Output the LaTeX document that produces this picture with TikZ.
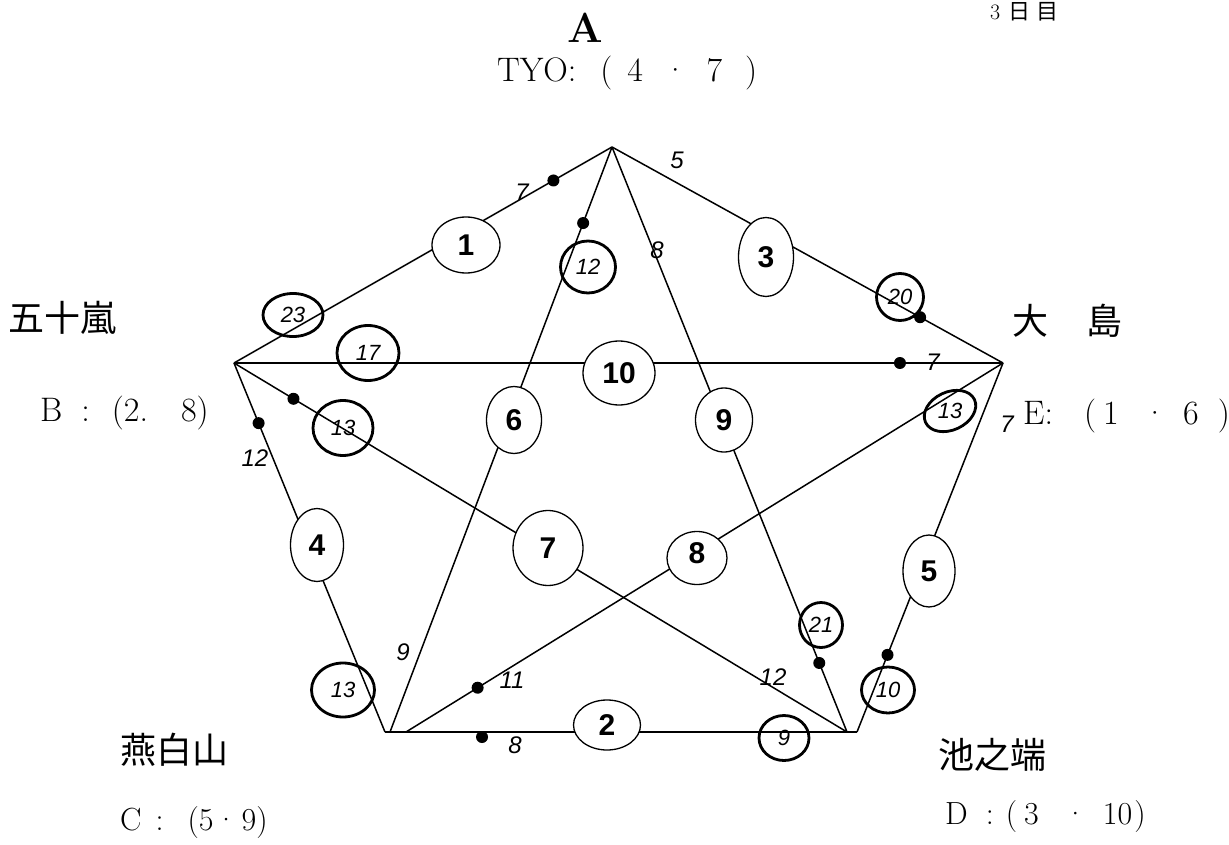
\documentclass[tikz,border=0pt]{standalone}
\usepackage{fontspec}
\usetikzlibrary{shapes.geometric,calc}
\newfontfamily\cjk{Noto Sans CJK JP}
\newfontfamily\numf{Liberation Sans}
\newfontfamily\handf{Liberation Sans}
\begin{document}
\begin{tikzpicture}[x=1pt,y=-1pt,
  edge/.style={line width=1.5pt},
  oval/.style={ellipse,draw,line width=1.3pt,fill=white,inner sep=0pt,font=\numf\bfseries\fontsize{30}{30}\selectfont},
  hring/.style={ellipse,draw,line width=2.8pt,inner sep=0pt,font=\handf\itshape\fontsize{22}{22}\selectfont},
  hline/.style={line width=2.8pt},
  hnum/.style={inner sep=0pt,font=\handf\itshape\fontsize{24}{24}\selectfont},
  htxt/.style={inner sep=0pt,font=\handf\itshape\fontsize{22}{22}\selectfont},
  dotn/.style={circle,fill,inner sep=0pt,minimum size=12pt},
  lbl/.style={inner sep=0pt,anchor=west,font=\fontsize{34}{34}\selectfont},
  lbls/.style={inner sep=0pt,anchor=west,font=\fontsize{32}{32}\selectfont},
  jp/.style={inner sep=0pt,anchor=west,font=\cjk\fontsize{36}{36}\selectfont},
]
\useasboundingbox (0,0) rectangle (1229,845);
\fill[white] (0,0) rectangle (1229,845);

% vertices
\coordinate (A) at (612,147);
\coordinate (B) at (234,363);
\coordinate (C) at (385,732);
\coordinate (Ca) at (390,732);
\coordinate (Ce) at (406,732);
\coordinate (D) at (857,732);
\coordinate (Dd) at (847,732);
\coordinate (E) at (1003,363);

% edges
\draw[edge] (A) -- (B);
\draw[edge] (A) -- (E);
\draw[edge] (B) -- (E);
\draw[edge] (B) -- (C);
\draw[edge] (C) -- (D);
\draw[edge] (E) -- (D);
\draw[edge] (A) -- (Ca);
\draw[edge] (B) -- (Dd);
\draw[edge] (E) -- (Ce);
\draw[edge] (A) -- (Dd);

% numbered ovals
\node[oval,minimum width=68pt,minimum height=56pt] (o1) at (466,245) {1};
\node[oval,minimum width=55pt,minimum height=79pt] (o3) at (766,257) {3};
\node[oval,minimum width=72pt,minimum height=64pt] (o10) at (619,373) {10};
\node[oval,minimum width=53pt,minimum height=73pt] (o4) at (317,545) {4};
\node[oval,minimum width=55pt,minimum height=67pt] (o6) at (514,420) {6};
\node[oval,minimum width=57pt,minimum height=64pt] (o9) at (724,420) {9};
\node[oval,minimum width=70pt,minimum height=75pt] (o7) at (548,548) {7};
\node[oval,minimum width=60pt,minimum height=53pt] (o8) at (697,558) {\raisebox{10pt}{8}};
\node[oval,minimum width=52pt,minimum height=72pt] (o5) at (929,571) {5};
\node[oval,minimum width=67pt,minimum height=50pt] (o2) at (607,725) {2};

% dots
\node[dotn] (d1) at ($(A)!0.155!(B)$) {};
\node[dotn] (d2) at ($(A)!0.13!(Ca)$) {};
\node[dotn] (d3) at ($(A)!0.788!(E)$) {};
\node[dotn] (d4) at ($(B)!0.866!(E)$) {};
\node[dotn] (d5) at ($(B)!0.097!(Dd)$) {};
\node[dotn] (d6) at ($(B)!0.163!(C)$) {};
\node[dotn] (d7) at ($(Ce)!0.12!(E)$) {};
\node[dotn] (d8) at (482,737) {};
\node[dotn] (d9) at ($(A)!0.882!(Dd)$) {};
\node[dotn] (d10) at ($(E)!0.791!(D)$) {};

% handwritten circled numbers
\node[hring,minimum width=60pt,minimum height=43pt] (r23) at (293,315) {23};
\node[hring,minimum width=62pt,minimum height=55pt] (r17) at (368,353) {17};
\node[hring,minimum width=55pt,minimum height=52pt] (r12) at (588,267) {12};
\node[hring,minimum width=47pt,minimum height=47pt] (r20) at (900,297) {20};
\node[htxt] (r13a) at (950,411) {13};
\draw[hline,rotate around={25:(r13a.center)}] (r13a.center) ellipse (27pt and 19pt);
\node[hring,minimum width=60pt,minimum height=55pt] (r13b) at (343,428) {13};
\node[hring,minimum width=63pt,minimum height=54pt] (r13c) at (343,690) {13};
\node[hring,minimum width=43pt,minimum height=45pt] (r21) at (821,625) {21};
\node[hring,minimum width=53pt,minimum height=46pt] (r10) at (888,690) {10};
\node[hring,minimum width=50pt,minimum height=45pt] (r9) at (784,738) {9};

% handwritten numbers
\node[hnum] (h7a) at (522,192) {7};
\node[hnum] (h5) at (677,160) {5};
\node[hnum] (h8a) at (657,250) {8};
\node[hnum] (h7b) at (933,362) {7};
\node[hnum] (h12a) at (255,458) {12};
\node[hnum] (h9) at (403,652) {9};
\node[hnum] (h11) at (512,680) {11};
\node[hnum] (h8b) at (515,745) {8};
\node[hnum] (h12b) at (773,677) {12};
\node[hnum] (h7c) at (1007,424) {7};

% labels
\node[inner sep=0pt,font=\bfseries\fontsize{42}{42}\selectfont] (lA) at (585,28) {A};
\node[lbl] (lTYO) at (497,73) {TYO:\hspace{24pt}(\hspace{15pt}4\hspace{20pt}·\hspace{19pt}7\hspace{23pt})};
\node[inner sep=0pt,anchor=west,font=\fontsize{22}{22}\selectfont] (l3) at (990,12) {3\hspace{8pt}{\cjk 日\hspace{6pt}目}};
\node[jp] (lB1) at (8,318) {五十嵐};
\node[lbl] (lB2) at (40,413) {B\hspace{19pt}:\hspace{22pt}(2.\hspace{33pt}8)};
\node[jp] (lE1) at (1012,321) {大\hspace{38pt}島};
\node[lbl] (lE2) at (1023,416) {E:\hspace{31pt}(\hspace{7pt}1\hspace{24pt}·\hspace{16pt}6\hspace{19pt})};
\node[jp] (lC1) at (120,750) {燕白山};
\node[lbls] (lC2) at (120,823) {C\hspace{14pt}:\hspace{24pt}(5\hspace{1pt}·\hspace{4pt}9)};
\node[jp] (lD1) at (938,755) {池之端};
\node[lbls] (lD2) at (945,817) {D\hspace{18pt}:\hspace{12pt}(\hspace{7pt}3\hspace{25pt}·\hspace{16pt}10\hspace{2pt})};
\end{tikzpicture}
\end{document}
